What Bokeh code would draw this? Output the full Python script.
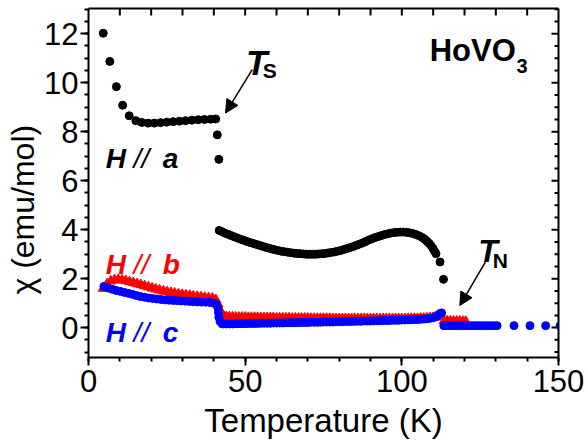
from bokeh.plotting import figure
from bokeh.models import (SingleIntervalTicker, FixedTicker, LinearAxis, Label, Arrow, NormalHead)
from bokeh.embed import file_html
from bokeh.resources import INLINE

# ---------------- data ----------------
# H // a  (black circles)
T_a = [4.7, 6.8, 8.9, 10.9, 13.0, 15.1, 17.0, 19.0, 21.0, 23.0, 25.0, 27.0, 29.0, 31.0,
       33.0, 35.0, 37.0, 39.0, 40.6, 41.1, 41.6,
       41.7, 42.5, 43.5, 44.5, 45.5, 46.5, 47.5, 48.5, 49.5, 50.5, 51.5, 52.5, 53.5, 54.5,
       55.5, 56.5, 57.5, 58.5, 59.5, 60.5, 61.5, 62.5, 63.5, 64.5, 65.5, 66.5, 67.5, 68.5,
       69.5, 70.5, 71.5, 72.5, 73.5, 74.5, 75.5, 76.5, 77.5, 78.5, 79.5, 80.5, 81.5, 82.5,
       83.5, 84.5, 85.5, 86.5, 87.5, 88.5, 89.5, 90.5, 91.5, 92.5, 93.5, 94.5, 95.5, 96.5,
       97.5, 98.5, 99.5, 100.5, 101.5, 102.5, 103.5, 104.5, 105.5, 106.5, 107.3, 108.0,
       108.7, 109.3, 109.9, 110.4, 110.9, 112.2, 113.3]
chi_a = [12.02, 10.87, 9.84, 9.08, 8.65, 8.45, 8.38, 8.35, 8.35, 8.37, 8.39, 8.41, 8.43, 8.45,
         8.47, 8.49, 8.50, 8.51, 8.52, 7.87, 6.87,
         3.97, 3.92, 3.86, 3.81, 3.76, 3.71, 3.66, 3.61, 3.57, 3.52, 3.48, 3.44, 3.40, 3.36,
         3.32, 3.28, 3.25, 3.21, 3.18, 3.15, 3.12, 3.10, 3.08, 3.06, 3.04, 3.03, 3.02, 3.01,
         3.00, 3.00, 3.00, 3.00, 3.01, 3.02, 3.03, 3.05, 3.07, 3.09, 3.12, 3.15, 3.19, 3.23,
         3.27, 3.31, 3.36, 3.41, 3.46, 3.52, 3.58, 3.63, 3.68, 3.72, 3.76, 3.80, 3.83, 3.86,
         3.88, 3.89, 3.90, 3.90, 3.89, 3.87, 3.84, 3.80, 3.75, 3.68, 3.61, 3.53,
         3.44, 3.35, 3.24, 3.13, 3.02, 2.68, 1.97]

# H // b  (red triangles)
T_b = [4.7, 5.9, 7.1, 8.3, 9.5, 10.7, 11.9, 13.1, 14.3, 15.5, 16.7, 17.9, 19.1, 20.3, 21.5,
       22.7, 23.9, 25.1, 26.3, 27.5, 28.7, 29.9, 31.1, 32.3, 33.5, 34.7, 35.9, 37.1, 38.3,
       39.5, 40.6, 41.3, 41.9, 42.5,
       43.2, 44, 45, 46, 47, 48, 49, 50, 51, 52, 53, 54, 55, 56, 57, 58, 59, 60, 61, 62, 63,
       64, 65, 66, 67, 68, 69, 70, 71, 72, 73, 74, 75, 76, 77, 78, 79, 80, 81, 82, 83, 84,
       85, 86, 87, 88, 89, 90, 91, 92, 93, 94, 95, 96, 97, 98, 99, 100, 101, 102, 103, 104,
       105, 106, 107, 108, 109, 110, 111, 112,
       113.5, 114.5, 115.5, 116.5, 117.5, 118.5, 119.5, 120.4]
chi_b = [1.60, 1.78, 1.90, 1.95, 1.96, 1.94, 1.91, 1.87, 1.83, 1.79, 1.75, 1.70, 1.66, 1.61, 1.57,
         1.53, 1.49, 1.46, 1.43, 1.40, 1.37, 1.35, 1.33, 1.31, 1.29, 1.27, 1.25, 1.23, 1.21,
         1.20, 1.14, 0.96, 0.74, 0.56,
         0.46, 0.44, 0.43, 0.43, 0.42, 0.42, 0.42, 0.42, 0.41, 0.41, 0.41, 0.41, 0.40, 0.40,
         0.40, 0.40, 0.40, 0.39, 0.39, 0.39, 0.39, 0.39, 0.38, 0.38, 0.38, 0.38, 0.38, 0.38,
         0.37, 0.37, 0.37, 0.37, 0.37, 0.37, 0.37, 0.36, 0.36, 0.36, 0.36, 0.36, 0.36, 0.36,
         0.36, 0.36, 0.36, 0.36, 0.36, 0.36, 0.36, 0.36, 0.36, 0.36, 0.36, 0.36, 0.36, 0.36,
         0.36, 0.36, 0.36, 0.37, 0.37, 0.37, 0.37, 0.38, 0.38, 0.39, 0.40, 0.41, 0.43, 0.45,
         0.28, 0.27, 0.27, 0.26, 0.26, 0.26, 0.25, 0.25]

# H // c  (blue circles)
T_c = [4.9, 6.2, 7.5, 8.8, 10.1, 11.4, 12.7, 14.0, 15.3, 16.6, 17.9, 19.2, 20.5, 21.8, 23.1,
       24.4, 25.7, 27.0, 28.3, 29.6, 30.9, 32.2, 33.5, 34.8, 36.1, 37.4, 38.7, 39.9, 40.8,
       41.3, 41.5, 41.6, 42.0, 42.6,
       43, 44, 45, 46, 47, 48, 49, 50, 51, 52, 53, 54, 55, 56, 57, 58, 59, 60, 61, 62, 63,
       64, 65, 66, 67, 68, 69, 70, 71, 72, 73, 74, 75, 76, 77, 78, 79, 80, 81, 82, 83, 84,
       85, 86, 87, 88, 89, 90, 91, 92, 93, 94, 95, 96, 97, 98, 99, 100, 101, 102, 103, 104,
       105, 106, 107, 108, 109, 110, 111, 111.6, 112.2, 112.7,
       113.4, 114.4, 115.4, 116.4, 117.4, 118.4, 119.4, 120.4, 121.4, 122.4, 123.4, 124.4,
       125.4, 126.4, 127.4, 128.4, 129.4, 130.4,
       135.8, 140.9, 145.9, 150.5]
chi_c = [1.68, 1.62, 1.57, 1.52, 1.48, 1.44, 1.40, 1.36, 1.31, 1.27, 1.24, 1.21, 1.19, 1.17, 1.15,
         1.13, 1.12, 1.11, 1.10, 1.09, 1.08, 1.07, 1.06, 1.05, 1.04, 1.04, 1.03, 1.00, 0.95,
         0.80, 0.60, 0.42, 0.25, 0.16,
         0.15, 0.15, 0.15, 0.15, 0.16, 0.16, 0.16, 0.16, 0.17, 0.17, 0.17, 0.17, 0.18, 0.18,
         0.18, 0.18, 0.19, 0.19, 0.19, 0.19, 0.20, 0.20, 0.20, 0.20, 0.21, 0.21, 0.21, 0.21,
         0.22, 0.22, 0.22, 0.22, 0.23, 0.23, 0.23, 0.23, 0.24, 0.24, 0.24, 0.25, 0.25, 0.25,
         0.26, 0.26, 0.26, 0.27, 0.27, 0.27, 0.28, 0.28, 0.28, 0.29, 0.29, 0.29, 0.30, 0.30,
         0.30, 0.31, 0.31, 0.32, 0.32, 0.33, 0.33, 0.34, 0.35, 0.36, 0.38, 0.40, 0.45, 0.52,
         0.58, 0.60,
         0.08, 0.08, 0.08, 0.08, 0.08, 0.08, 0.08, 0.08, 0.08, 0.08, 0.08, 0.08,
         0.08, 0.08, 0.08, 0.08, 0.08, 0.08,
         0.08, 0.08, 0.08, 0.08]

# axis ranges and tick positions
X_MIN, X_MAX = 0, 150
Y_MIN, Y_MAX = -1.22, 13.03
x_ticks_major = 50
y_ticks_major = 2
top_ticks = [10, 20, 30, 40, 50, 60, 70, 80, 90, 100, 110, 120, 130, 140]
right_major = [0, 2, 4, 6, 8, 10, 12]
right_minor = [-1.0, -0.5, 0.5, 1.0, 1.5, 2.5, 3.0, 3.5, 4.5, 5.0, 5.5, 6.5, 7.0, 7.5,
               8.5, 9.0, 9.5, 10.5, 11.0, 11.5, 12.5, 13.0]

FONT = "Liberation Sans"
W, H = 588, 444
BL, BR, BT, BB = 88, 30, 8, 87

# ---------------- figure ----------------
p = figure(width=W, height=H, x_range=(X_MIN, X_MAX), y_range=(Y_MIN, Y_MAX),
           output_backend="svg", toolbar_location=None,
           min_border_left=BL, min_border_right=BR, min_border_top=BT, min_border_bottom=BB)
p.xgrid.visible = False
p.ygrid.visible = False
p.outline_line_color = None
p.background_fill_color = "white"
p.border_fill_color = "white"

# bottom axis
xa = p.xaxis[0]
xa.ticker = SingleIntervalTicker(interval=x_ticks_major, num_minor_ticks=5)
xa.axis_label = "Temperature (K)"
xa.axis_label_text_font = FONT
xa.axis_label_text_font_size = "33px"
xa.axis_label_text_font_style = "normal"
xa.axis_label_standoff = 7
xa.major_label_text_font = FONT
xa.major_label_text_font_size = "31px"
xa.major_label_standoff = 4

# left axis
ya = p.yaxis[0]
ya.ticker = SingleIntervalTicker(interval=y_ticks_major, num_minor_ticks=4)
ya.axis_label = "\u03c7 (emu/mol)" + "\u00a0" * 6
ya.axis_label_text_font = FONT
ya.axis_label_text_font_size = "32px"
ya.axis_label_text_font_style = "normal"
ya.axis_label_standoff = 0
ya.major_label_text_font = FONT
ya.major_label_text_font_size = "31px"
ya.major_label_standoff = 2

for ax in (xa, ya):
    ax.axis_line_width = 2
    ax.axis_line_color = "black"
    ax.major_tick_line_width = 2
    ax.minor_tick_line_width = 2
    ax.major_tick_out = 8
    ax.major_tick_in = 0
    ax.minor_tick_out = 4
    ax.minor_tick_in = 0
    ax.major_label_text_color = "black"
    ax.axis_label_text_color = "black"

# top and right spines (axes with no ticks and no labels)
top = LinearAxis(ticker=FixedTicker(ticks=[], minor_ticks=[]))
right = LinearAxis(ticker=FixedTicker(ticks=[], minor_ticks=[]))
for ax in (top, right):
    ax.axis_line_width = 2
    ax.axis_line_color = "black"
    ax.major_tick_out = 0
    ax.major_tick_in = 0
    ax.minor_tick_out = 0
    ax.minor_tick_in = 0
    ax.major_label_standoff = 0
p.add_layout(top, "above")
p.add_layout(right, "right")

# inward mirror ticks drawn as short segments from the frame edge
px_per_y = (H - BT - BB) / (Y_MAX - Y_MIN)
px_per_x = (W - BL - BR) / (X_MAX - X_MIN)
top_len = 7 / px_per_y
maj_len = 7 / px_per_x
min_len = 4 / px_per_x
p.segment(x0=top_ticks, y0=[Y_MAX] * len(top_ticks), x1=top_ticks,
          y1=[Y_MAX - top_len] * len(top_ticks), line_color="black", line_width=2)
p.segment(x0=[X_MAX] * len(right_major), y0=right_major,
          x1=[X_MAX - maj_len] * len(right_major), y1=right_major,
          line_color="black", line_width=2)
p.segment(x0=[X_MAX] * len(right_minor), y0=right_minor,
          x1=[X_MAX - min_len] * len(right_minor), y1=right_minor,
          line_color="black", line_width=2)

# data
p.scatter(T_a, chi_a, marker="circle", size=8, color="black")
p.scatter(T_b, chi_b, marker="triangle", size=10, color="#ff0000")
p.scatter(T_c, chi_c, marker="circle", size=8, color="#0000ff")

# labels
def lab(x, y, text, color="black", size="28px", style="bold italic"):
    p.add_layout(Label(x=x, y=y, text=text, text_color=color, text_font=FONT,
                       text_font_size=size, text_font_style=style,
                       text_baseline="alphabetic", text_align="left"))

for yb, col, letter in ((6.89, "black", "a"), (2.59, "#ff0000", "b"), (-0.20, "#0000ff", "c")):
    lab(5.5, yb, "H", col)
    lab(14.4, yb, "//", col, style="italic")
    lab(23.7, yb, letter, col)

lab(108.9, 11.32, "HoVO", size="31px", style="bold")
lab(136.6, 10.70, "3", size="20px", style="bold")

lab(50.3, 10.84, "T", size="35px")
lab(55.6, 10.50, "S", size="21px", style="bold")
lab(124.4, 3.14, "T", size="32px")
lab(129.0, 2.73, "N", size="21px", style="bold")

head = dict(size=13, fill_color="black", line_color="black")
p.add_layout(Arrow(end=NormalHead(**head), x_start=52.25, y_start=10.53, x_end=43.73, y_end=8.76,
                   line_width=1.5, line_color="black"))
p.add_layout(Arrow(end=NormalHead(**head), x_start=126.7, y_start=2.68, x_end=118.5, y_end=0.90,
                   line_width=1.5, line_color="black"))

open("out.html", "w").write(file_html(p, INLINE))
